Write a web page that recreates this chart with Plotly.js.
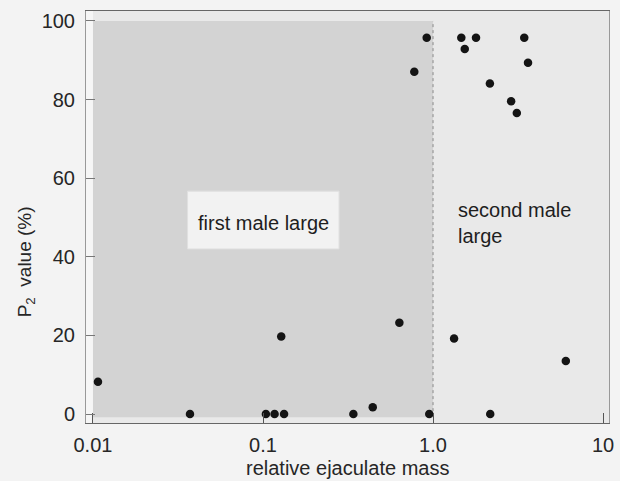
<!DOCTYPE html>
<html>
<head>
<meta charset="utf-8">
<script src="https://cdn.plot.ly/plotly-3.0.1.min.js"></script>
<style>html,body{margin:0;padding:0;background:#f3f3f3;}#chart{width:620px;height:481px;}</style>
</head>
<body>
<div id="chart"></div>
<script>
// Relative ejaculate mass (x, log scale) and P2 value in % (y)
const ejaculateMass = [0.0107, 0.0372, 0.104, 0.117, 0.133, 0.128, 0.34, 0.442, 0.634, 0.776, 0.918, 0.95,
                       1.33, 1.467, 1.537, 1.79, 2.16, 2.17, 2.88, 3.11, 3.44, 3.62, 6.04];
const p2Value      = [8.2, 0, 0, 0, 0, 19.7, 0, 1.7, 23.2, 87.1, 95.75, 0,
                      19.2, 95.75, 92.9, 95.75, 84.1, 0, 79.6, 76.6, 95.75, 89.4, 13.5];
const xTickVals = [0.01, 0.1, 1, 10];
const xTickText = ["0.01", "0.1", "1.0", "10"];
const yTickVals = [0, 20, 40, 60, 80, 100];
const regionLabels = ["first male large", "second male<br>large"];
const xTitle = "relative ejaculate mass";
const yTitle = "P<sub>2</sub>  value (%)";

const trace = {
  x: ejaculateMass, y: p2Value, type: "scatter", mode: "markers",
  marker: {color: "#141414", size: 8.5},
  hoverinfo: "x+y", showlegend: false
};

const font = {family: "Liberation Sans, Arial, sans-serif", size: 19, color: "#262626"};

const layout = {
  width: 620, height: 481,
  margin: {l: 86, r: 11, t: 11, b: 58},
  paper_bgcolor: "#f3f3f3",
  plot_bgcolor: "#e9e9e9",
  font: font,
  showlegend: false,
  xaxis: {
    type: "log", range: [-2.041, 1.035],
    tickvals: xTickVals, ticktext: xTickText,
    ticks: "inside", ticklen: 10, tickcolor: "#555", tickwidth: 1,
    showgrid: false, zeroline: false,
    showline: true, linecolor: "#666", linewidth: 1, mirror: true,
    tickfont: {family: font.family, size: 20, color: "#262626"}, ticklabelstandoff: 4
  },
  yaxis: {
    range: [-2.29, 102.54],
    tickvals: yTickVals,
    ticks: "inside", ticklen: 9, tickcolor: "#777", tickwidth: 1,
    showgrid: false, zeroline: false,
    showline: true, linecolor: "#999", linewidth: 1, mirror: true,
    tickfont: {family: font.family, size: 20, color: "#262626"}, ticklabelstandoff: 6
  },
  shapes: [
    // white strip left of 0.01
    {type: "rect", xref: "x", yref: "paper", x0: 0.0085, x1: 0.01, y0: 0, y1: 1,
     fillcolor: "#f6f6f6", line: {width: 0}, layer: "below"},
    // shaded "first male large" region
    {type: "rect", xref: "x", yref: "y", x0: 0.01, x1: 1.0, y0: -0.8, y1: 100,
     fillcolor: "#d3d3d3", line: {width: 0}, layer: "below"},
    // label box
    {type: "rect", xref: "x", yref: "y", x0: 0.036, x1: 0.28, y0: 42, y1: 56.7,
     fillcolor: "#f2f2f2", line: {width: 1, color: "#e0e0e0"}, layer: "below"},
    // dashed boundary at 1.0
    {type: "line", xref: "x", yref: "y", x0: 1.0, x1: 1.0, y0: -0.8, y1: 100,
     line: {color: "#8a8a8a", width: 1, dash: "dot"}, layer: "below"}
  ],
  annotations: [
    {xref: "x", yref: "y", x: -0.997, y: 48.6, text: regionLabels[0], showarrow: false,
     xanchor: "center", yanchor: "middle", font: {family: font.family, size: 20, color: "#1e1e1e"}},
    {xref: "x", yref: "y", x: 0.135, y: 48.6, text: regionLabels[1], showarrow: false,
     xanchor: "left", yanchor: "middle", align: "left", font: {family: font.family, size: 20, color: "#1e1e1e"}},
    {xref: "paper", yref: "paper", x: 0.5, y: -0.109, text: xTitle, showarrow: false,
     xanchor: "center", yanchor: "middle", font: {family: font.family, size: 20, color: "#262626"}},
    {xref: "paper", yref: "paper", x: -0.1147, y: 0.39, text: yTitle, showarrow: false,
     textangle: -90, xanchor: "center", yanchor: "middle", font: {family: font.family, size: 19, color: "#262626"}}
  ]
};

Plotly.newPlot("chart", [trace], layout, {displayModeBar: false, staticPlot: true});
</script>
</body>
</html>
